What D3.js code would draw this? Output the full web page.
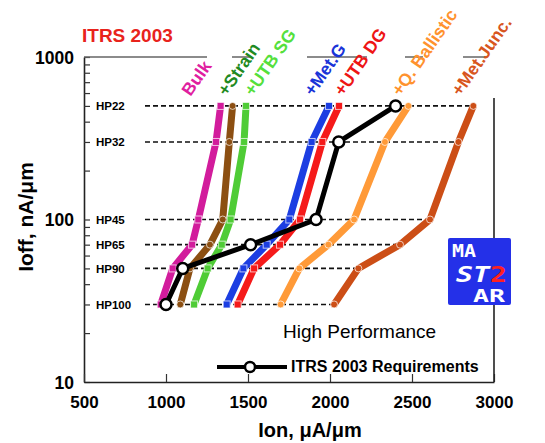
<!DOCTYPE html>
<html>
<head>
<meta charset="utf-8">
<script src="https://cdn.jsdelivr.net/npm/d3@7"></script>
<style>
  body { margin: 0; background: #fff; }
  svg { display: block; font-family: "Liberation Sans", Arial, sans-serif; }
</style>
</head>
<body>
<div id="chart"></div>
<script>
// Ioff levels (nA/um) for each technology node
const levels = [30, 50, 70, 100, 300, 500];
const hpLabels = ["HP100", "HP90", "HP65", "HP45", "HP32", "HP22"];

// Ion (uA/um) at each level
const bulk     = [968, 1041, 1159, 1197, 1305, 1333];
const strain   = [1087, 1146, 1268, 1346, 1386, 1406];
const utbSG    = [1171, 1254, 1340, 1394, 1476, 1488];
const metG     = [1370, 1472, 1614, 1752, 1888, 1994];
const utbDG    = [1437, 1537, 1695, 1817, 1953, 2055];
const qBall    = [1699, 1813, 1990, 2147, 2335, 2478];
const metJunc  = [2025, 2173, 2427, 2610, 2783, 2874];
const itrs2003 = [1000, 1102, 1516, 1915, 2053, 2400];

const seriesNames = ["Bulk", "+Strain", "+UTB SG", "+Met.G", "+UTB DG", "+Q. Ballistic", "+Met.Junc."];
const seriesValues = [bulk, strain, utbSG, metG, utbDG, qBall, metJunc];

const xTicks = [500, 1000, 1500, 2000, 2500, 3000];
const yTickLabels = [10, 100, 1000];

const width = 545;
const height = 443;
const marginLeft = 84;
const marginRight = 51;
const marginTop = 57;
const marginBottom = 61;

const lineColors = ["#d21c9c", "#8c4f12", "#4fcc36", "#1c3ee2", "#f51a1a", "#ff9a38", "#cc4e16"];
const labelColors = ["#e0209f", "#1f8a22", "#55e03c", "#1a34d8", "#ee1515", "#ff922e", "#d8561e"];
const markerShape = ["square", "circle", "square", "square", "square", "circle", "circle"];
const labelDx = [-30, -6, 7, -16, 4, -8, -13];

const svg = d3.select("#chart").append("svg")
    .attr("width", width)
    .attr("height", height);

const x = d3.scaleLinear()
    .domain([500, 3000])
    .range([marginLeft, width - marginRight]);

const y = d3.scaleLog()
    .domain([10, 1000])
    .range([height - marginBottom, marginTop]);

// minor ticks for every 1..9 x decade
const yMinor = [];
for (let d = 10; d < 1000; d *= 10) {
    for (let k = 1; k < 10; k++) yMinor.push(d * k);
}
yMinor.push(1000);

// Left axis
svg.append("g")
    .attr("transform", `translate(${marginLeft},0)`)
    .call(d3.axisLeft(y).tickValues(yMinor).tickSize(-6).tickSizeOuter(0)
        .tickFormat(d => yTickLabels.includes(d) ? d : ""))
    .call(g => g.select(".domain").attr("stroke", "#222").attr("stroke-width", 1.6))
    .call(g => g.selectAll(".tick line").attr("stroke", "#333").attr("stroke-width", 1.2))
    .call(g => g.selectAll(".tick text")
        .attr("x", -10)
        .attr("dy", "0.36em")
        .attr("font-size", 17.5)
        .attr("font-weight", "bold")
        .attr("font-family", "Liberation Sans, Arial, sans-serif")
        .attr("fill", "#000"));

// Bottom axis
svg.append("g")
    .attr("transform", `translate(0,${height - marginBottom})`)
    .call(d3.axisBottom(x).tickValues(xTicks).tickSize(-8).tickSizeOuter(0)
        .tickFormat(d3.format("d")))
    .call(g => g.select(".domain").attr("stroke", "#222").attr("stroke-width", 1.6))
    .call(g => g.selectAll(".tick line").attr("stroke", "#333").attr("stroke-width", 1.2))
    .call(g => g.selectAll(".tick text")
        .attr("y", 14)
        .attr("dy", "0.71em")
        .attr("font-size", 17)
        .attr("font-weight", "bold")
        .attr("font-family", "Liberation Sans, Arial, sans-serif")
        .attr("fill", "#000"));

// Top border (broken by the labels) and right border
svg.append("line")
    .attr("x1", marginLeft).attr("x2", 486)
    .attr("y1", marginTop).attr("y2", marginTop)
    .attr("stroke", "#666").attr("stroke-width", 1.6)
    .attr("stroke-dasharray", "123,25,18,57,60,38,18,40,22");
svg.append("line")
    .attr("x1", width - marginRight).attr("x2", width - marginRight)
    .attr("y1", 98).attr("y2", height - marginBottom)
    .attr("stroke", "#222").attr("stroke-width", 1.6);

// Title
svg.append("text")
    .attr("x", 82).attr("y", 42)
    .attr("font-size", 19).attr("font-weight", "bold")
    .attr("fill", "#e8231c")
    .text("ITRS 2003");

// Axis titles
svg.append("text")
    .attr("x", 310).attr("y", 437)
    .attr("text-anchor", "middle")
    .attr("font-size", 20).attr("font-weight", "bold")
    .text("Ion, μA/μm");

svg.append("text")
    .attr("transform", "translate(33,217) rotate(-90)")
    .attr("text-anchor", "middle")
    .attr("font-size", 21).attr("font-weight", "bold")
    .text("Ioff, nA/μm");

// HP node reference lines, running to the last curve
const hp = svg.append("g");
levels.forEach((lv, i) => {
    hp.append("line")
        .attr("x1", 145).attr("x2", x(metJunc[i]))
        .attr("y1", y(lv)).attr("y2", y(lv))
        .attr("stroke", "#111").attr("stroke-width", 1.6)
        .attr("stroke-dasharray", "5,3");
    hp.append("text")
        .attr("x", 96).attr("y", y(lv))
        .attr("dy", "0.36em")
        .attr("font-size", 11.5).attr("font-weight", "bold")
        .text(hpLabels[i]);
});

// Technology curves
const line = d3.line()
    .x(d => x(d[0]))
    .y(d => y(d[1]));

seriesValues.forEach((vals, s) => {
    const pts = vals.map((v, i) => [v, levels[i]]);
    const g = svg.append("g");
    g.append("path")
        .datum(pts)
        .attr("d", line)
        .attr("fill", "none")
        .attr("stroke", lineColors[s])
        .attr("stroke-width", 7)
        .attr("stroke-linejoin", "round");
    if (markerShape[s] === "square") {
        g.selectAll("rect")
            .data(pts)
            .join("rect")
            .attr("x", d => x(d[0]) - 3.5)
            .attr("y", d => y(d[1]) - 3.5)
            .attr("width", 7).attr("height", 7)
            .attr("fill", lineColors[s])
            .attr("stroke", "#fff").attr("stroke-opacity", 0.7).attr("stroke-width", 1);
    } else {
        g.selectAll("circle")
            .data(pts)
            .join("circle")
            .attr("cx", d => x(d[0]))
            .attr("cy", d => y(d[1]))
            .attr("r", 3.5)
            .attr("fill", lineColors[s])
            .attr("stroke", "#fff").attr("stroke-opacity", 0.7).attr("stroke-width", 1);
    }
    // rotated label above the top of the curve
    const top = pts[pts.length - 1];
    g.append("text")
        .attr("transform", `translate(${x(top[0]) + labelDx[s]},97) rotate(-55)`)
        .attr("font-size", 17.5).attr("font-weight", "bold")
        .attr("fill", labelColors[s])
        .text(seriesNames[s]);
});

// ITRS 2003 requirements
const itrsPts = itrs2003.map((v, i) => [v, levels[i]]);
svg.append("path")
    .datum(itrsPts)
    .attr("d", line)
    .attr("fill", "none")
    .attr("stroke", "#000")
    .attr("stroke-width", 5)
    .attr("stroke-linejoin", "round");
svg.append("g")
    .selectAll("circle")
    .data(itrsPts)
    .join("circle")
    .attr("cx", d => x(d[0]))
    .attr("cy", d => y(d[1]))
    .attr("r", 5.5)
    .attr("fill", "#fff")
    .attr("stroke", "#000")
    .attr("stroke-width", 2.5);

// Legend
svg.append("text")
    .attr("x", 283).attr("y", 338)
    .attr("font-size", 19)
    .text("High Performance");

svg.append("line")
    .attr("x1", 217).attr("x2", 287)
    .attr("y1", 367).attr("y2", 367)
    .attr("stroke", "#000").attr("stroke-width", 4);
svg.append("circle")
    .attr("cx", 250).attr("cy", 367).attr("r", 5)
    .attr("fill", "#fff").attr("stroke", "#000").attr("stroke-width", 2.5);
svg.append("text")
    .attr("x", 291).attr("y", 372)
    .attr("font-size", 16).attr("font-weight", "bold")
    .text("ITRS 2003 Requirements");

// MASTAR logo
const logoFont = "DejaVu Sans Mono, monospace";
const logo = svg.append("g").attr("transform", "translate(448,238)");
logo.append("rect")
    .attr("width", 63).attr("height", 67).attr("rx", 2)
    .attr("fill", "#2430e8");
logo.append("text")
    .attr("x", 4).attr("y", 19)
    .attr("font-family", logoFont).attr("font-weight", "bold")
    .attr("font-size", 18).attr("fill", "#fff")
    .attr("textLength", 24).attr("lengthAdjust", "spacingAndGlyphs")
    .text("MA");
const st = logo.append("text")
    .attr("x", 8).attr("y", 44)
    .attr("font-family", logoFont).attr("font-weight", "bold")
    .attr("font-size", 21).attr("fill", "#fff")
    .attr("textLength", 51).attr("lengthAdjust", "spacingAndGlyphs");
st.append("tspan").attr("font-style", "italic").text("ST");
st.append("tspan").attr("fill", "#ff2020").text("2");
logo.append("text")
    .attr("x", 25).attr("y", 64)
    .attr("font-family", logoFont).attr("font-weight", "bold")
    .attr("font-size", 18).attr("fill", "#fff")
    .attr("textLength", 32).attr("lengthAdjust", "spacingAndGlyphs")
    .text("AR");
</script>
</body>
</html>
